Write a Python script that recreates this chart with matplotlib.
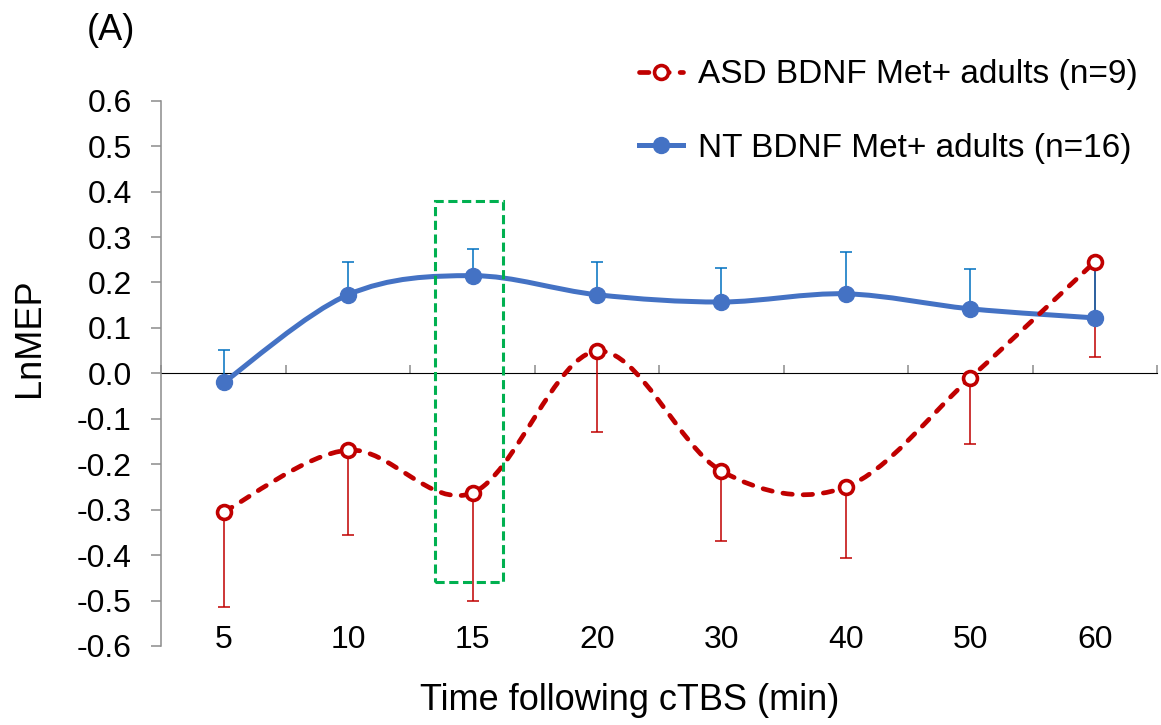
import matplotlib
matplotlib.use("Agg")
import matplotlib.pyplot as plt
import numpy as np
from matplotlib.path import Path
from matplotlib.patches import PathPatch, Rectangle
from matplotlib.lines import Line2D

plt.rcParams['font.family'] = ['Liberation Sans', 'DejaVu Sans']
plt.rcParams['axes.unicode_minus'] = False

# data
times = ["5", "10", "15", "20", "30", "40", "50", "60"]
asd_mean = [-0.305, -0.169, -0.263, 0.049, -0.215, -0.250, -0.010, 0.245]
asd_err = [0.209, 0.186, 0.237, 0.177, 0.155, 0.156, 0.145, 0.210]   # drawn downward
nt_mean = [-0.020, 0.173, 0.215, 0.173, 0.157, 0.175, 0.142, 0.122]
nt_err = [0.072, 0.073, 0.059, 0.073, 0.075, 0.093, 0.088, 0.123]     # drawn upward

asd_label = "ASD BDNF Met+ adults (n=9)"
nt_label = "NT BDNF Met+ adults (n=16)"

RED = "#C00000"
BLUE = "#4472C4"
BLUE_ERR = "#0070C0"
GREEN = "#00B050"
GREY = "#8C8C8C"


def smooth_path(xs, ys):
    # excel-like smoothed line: cubic bezier through the points
    pts = np.column_stack([xs, ys]).astype(float)
    n = len(pts)
    verts = [pts[0]]
    codes = [Path.MOVETO]
    for i in range(n - 1):
        p0 = pts[i - 1] if i > 0 else pts[i]
        p1 = pts[i]
        p2 = pts[i + 1]
        p3 = pts[i + 2] if i + 2 < n else pts[i + 1]
        c1 = p1 + (p2 - p0) / 6.0
        c2 = p2 - (p3 - p1) / 6.0
        verts += [c1, c2, p2]
        codes += [Path.CURVE4] * 3
    return Path(verts, codes)


fig = plt.figure(figsize=(11.61, 7.25), dpi=100)
ax = fig.add_axes([0.1391, 0.109, 0.8574, 0.7521])

x = np.arange(len(times))

# error bars
ax.errorbar(x, asd_mean, yerr=[asd_err, np.zeros(len(x))], fmt='none',
            ecolor=RED, elinewidth=1.1, capsize=4, capthick=1.1, zorder=2)
ax.errorbar(x, nt_mean, yerr=[np.zeros(len(x)), nt_err], fmt='none',
            ecolor=BLUE_ERR, elinewidth=1.1, capsize=4, capthick=1.1, zorder=2.5)

# smoothed lines
ax.add_patch(PathPatch(smooth_path(x, nt_mean), fill=False, edgecolor=BLUE,
                       linewidth=3.6, capstyle='round', zorder=3))
ax.plot(x, nt_mean, linestyle='none', marker='o', markersize=11.5,
        color=BLUE, markeredgecolor=BLUE, zorder=3.5)

ax.add_patch(PathPatch(smooth_path(x, asd_mean), fill=False, edgecolor=RED,
                       linewidth=3.4, linestyle=(0, (2.0, 2.3)),
                       capstyle='round', zorder=4))
ax.plot(x, asd_mean, linestyle='none', marker='o', markersize=10,
        markerfacecolor='white', markeredgecolor=RED, markeredgewidth=2.6, zorder=4.5)

# highlight box around 15 min
ax.add_patch(Rectangle((1.70, -0.46), 0.545, 0.839, fill=False, edgecolor=GREEN,
                       linewidth=2.2, linestyle=(0, (3, 1.5)), zorder=5))

ax.set_xlim(-0.5, len(times) - 0.5)
ax.set_ylim(-0.6, 0.6)

# y axis
yt = np.round(np.arange(-0.6, 0.61, 0.1), 1) + 0.0
ax.set_yticks(yt)
ax.set_yticklabels([f"{v:.1f}".replace("-0.0", "0.0") for v in yt])
ax.tick_params(axis='y', direction='out', length=7, width=1.1, color=GREY,
               labelsize=23, pad=14.5)
ax.spines['left'].set_color(GREY)
ax.spines['left'].set_linewidth(1.1)
for s in ['top', 'right', 'bottom']:
    ax.spines[s].set_visible(False)

# category labels sit at the bottom
ax.set_xticks(x)
ax.set_xticklabels(times)
ax.tick_params(axis='x', length=0, labelsize=23, pad=-15)

# zero line with category boundary ticks
sec = ax.secondary_xaxis(0.5)
sec.set_xticks(np.arange(-0.5, len(times), 1.0))
sec.set_xticklabels([])
sec.tick_params(axis='x', direction='out', length=6, width=1.1, color=GREY)
sec.spines['bottom'].set_color(GREY)
sec.spines['bottom'].set_linewidth(1.1)

fig.text(0.5426, 0.0207, "Time following cTBS (min)", fontsize=26, ha='center', va='baseline')
fig.text(0.0254, 0.534, "LnMEP", fontsize=26, rotation=90, ha='center', va='center')
fig.text(0.0745, 0.945, "(A)", fontsize=26, ha='left', va='baseline')

handles = [
    Line2D([], [], color=RED, linewidth=3.4, linestyle=(0, (2.0, 2.3)),
           dash_capstyle='round', marker='o', markersize=10,
           markerfacecolor='white', markeredgecolor=RED, markeredgewidth=2.6),
    Line2D([], [], color=BLUE, linewidth=3.6, marker='o', markersize=11.5,
           markeredgecolor=BLUE),
]
fig.legend(handles, [asd_label, nt_label], loc='upper right',
           bbox_to_anchor=(0.9917, 0.9366), frameon=False, fontsize=24,
           handlelength=1.32, handletextpad=0.45, labelspacing=1.28,
           numpoints=1, borderaxespad=0)

fig.savefig("out.png", dpi=100)
